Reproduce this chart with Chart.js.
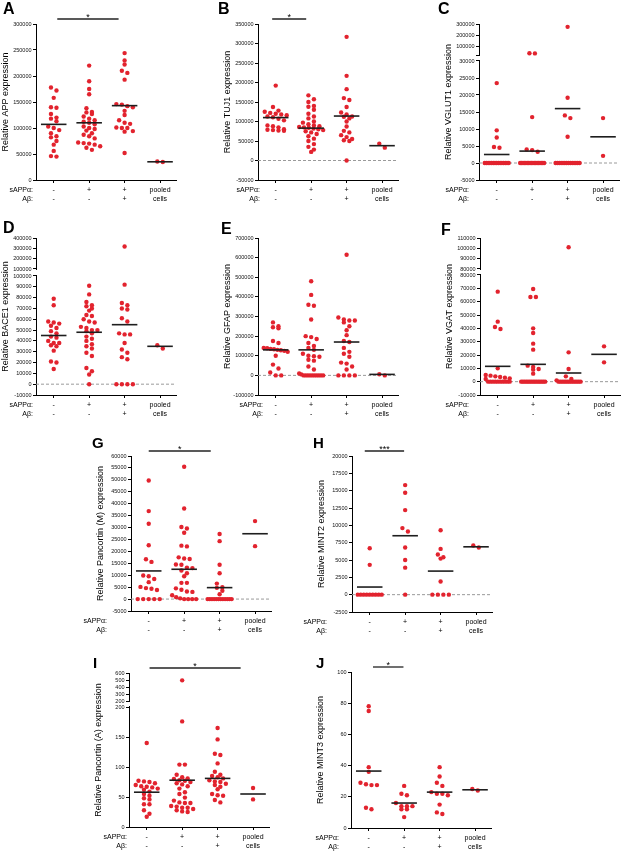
<!DOCTYPE html>
<html><head><meta charset="utf-8">
<script src="https://cdn.jsdelivr.net/npm/chart.js@4/dist/chart.umd.min.js"></script>
<style>
html,body{margin:0;padding:0;background:#fff;}
body{width:624px;height:852px;position:relative;overflow:hidden;font-family:"Liberation Sans",Arial,sans-serif;}
canvas{position:absolute;}
.lt{position:absolute;font-weight:bold;line-height:1;color:#000;font-family:"Liberation Sans",Arial,sans-serif;}
</style></head><body>
<script>
// ---------------- DATA ----------------
const sappLabels = ['-', '+', '+', 'pooled'];
const abLabels   = ['-', '-', '+', 'cells'];
const rowNames   = ['sAPP\u03b1:', 'A\u03b2:'];

// A: APP
const appVals = [
  [178000,172000,158000,140000,139000,127000,120000,118000,113000,103000,100000,96000,90000,84000,82000,75000,68000,56000,46000,45000],
  [220000,190000,175000,165000,138000,131000,130000,127000,122000,118000,115000,112000,110000,107000,103000,100000,98000,95000,90000,87000,84000,80000,72000,71000,70000,68000,65000,62000,58000],
  [244000,230000,222000,210000,206000,193000,146000,145000,142000,140000,133000,125000,115000,110000,108000,101000,100000,100000,94000,93000,52000],
  [35500,34500]
];
const appMeans = [107000,110000,143000,35000];
const appTicks = [0,50000,100000,150000,200000,250000,300000];
const appSig = [1.1, 2.83, '*'];

// B: TUJ1
const tuj1Vals = [
  [192000,137000,128000,125000,122000,120000,118000,116000,113000,111000,107000,103000,90000,88000,85000,80000,79000,78000,77000,76000],
  [167000,157000,150000,140000,138000,130000,120000,113000,108000,100000,97000,93000,90000,88000,86000,85000,84000,82000,80000,78000,75000,72000,68000,62000,56000,50000,42000,35000,28000,22000],
  [317000,217000,183000,160000,155000,137000,123000,118000,113000,112000,108000,100000,87000,76000,72000,65000,60000,55000,52000,50000,0],
  [43000,33000]
];
const tuj1Means = [110000,83000,114000,38000];
const tuj1Ticks = [-50000,0,50000,100000,150000,200000,250000,300000,350000];
const tuj1Sig = [0.9, 1.86, '*'];

// C: VGLUT1 (broken axis)
const vglut1Vals = [
  [23500,9600,7500,4700,4500,0,0,0,0,0,0,0,0,0,0,0,0,0,0,0],
  [45000,44000,13500,4000,3800,3300,0,0,0,0,0,0,0,0,0,0,0,0,0,0,0,0,0,0],
  [275000,19200,14000,13200,7700,0,0,0,0,0,0,0,0,0,0,0,0,0,0],
  [13200,2100]
];
const vglut1Means = [2500,3500,16000,7700];
const vglut1Ticks = [-5000,0,5000,10000,15000,20000,25000,30000];
const vglut1UpperTicks = [100000,200000,300000];

// D: BACE1 (broken axis)
const bace1Vals = [
  [79000,73000,58000,57000,56000,54000,52000,49000,47000,44000,43000,40000,38000,38000,36000,35000,31000,21000,20000,14000],
  [91000,83000,76000,73000,72000,70000,68000,64000,63000,60000,58000,57000,53000,52000,50000,50000,49000,47000,44000,42000,40000,37000,35000,33000,29000,26000,15000,12000,9000,0],
  [318000,92000,75000,73000,70000,69000,61000,58000,47000,46000,46000,38000,32000,29000,25000,23000,0,0,0,0],
  [36000,33000]
];
const bace1Means = [45000,48000,55000,35000];
const bace1Ticks = [-10000,0,10000,20000,30000,40000,50000,60000,70000,80000,90000,100000];
const bace1UpperTicks = [100000,200000,300000,400000];

// E: GFAP
const gfapVals = [
  [270000,250000,245000,240000,175000,165000,140000,138000,135000,133000,130000,128000,125000,120000,100000,55000,35000,15000,0,0],
  [480000,410000,360000,355000,285000,200000,195000,185000,165000,150000,140000,130000,110000,100000,98000,95000,80000,75000,45000,30000,10000,5000,0,0,0,0,0,0,0,0,0,0],
  [615000,295000,285000,280000,280000,270000,250000,230000,205000,175000,170000,140000,120000,110000,95000,65000,60000,45000,30000,0,0,0,0],
  [6000,0]
];
const gfapMeans = [130000,130000,170000,5000];
const gfapTicks = [-100000,0,100000,200000,300000,400000,500000,600000,700000];

// F: VGAT (broken axis)
const vgatVals = [
  [67500,45000,41000,39500,10000,5000,4500,4000,3500,3000,2500,2000,0,0,0,0,0,0,0,0,0,0],
  [69500,63500,63500,40000,36500,28500,24000,12000,11000,9500,9000,6000,0,0,0,0,0,0,0,0,0,0,0,0,0,0,0],
  [101000,22000,9500,4000,2000,1000,0,0,0,0,0,0,0,0,0,0,0,0,0],
  [26500,14500]
];
const vgatMeans = [11500,13000,6500,20500];
const vgatTicks = [-10000,0,10000,20000,30000,40000,50000,60000,70000,80000];
const vgatUpperTicks = [80000,90000,100000,110000];

// G: Pancortin (M)
const pancMVals = [
  [49700,36900,31600,22600,16700,15600,9900,9600,8400,7100,5100,4600,4300,3800,0,0,0,0,0],
  [55500,38000,30200,29600,27800,22400,22100,17500,17000,16800,14500,14400,13200,13000,12000,10800,9600,6800,6800,4500,3900,3200,3000,1600,800,300,0,0,0,0],
  [27300,24300,14400,10800,6500,5000,4700,3500,2000,0,0,0,0,0,0,0,0,0,0,0,0],
  [32700,22200]
];
const pancMMeans = [11800,12500,4800,27400];
const pancMTicks = [-5000,0,5000,10000,15000,20000,25000,30000,35000,40000,45000,50000,55000,60000];
const pancMSig = [1.0, 2.75, '*'];

// H: MINT2
const mint2Vals = [
  [6700,4300,0,0,0,0,0,0,0,0,0],
  [15800,14700,12200,9600,9100,6800,5000,3900,0],
  [9300,6600,5800,5400,5200,1900,0,0,0,0],
  [7100,6800]
];
const mint2Means = [1100,8500,3400,6900];
const mint2Ticks = [-2500,0,2500,5000,7500,10000,12500,15000,17500,20000];
const mint2Sig = [0.86, 1.97, '***'];

// I: Pancortin (A) (broken axis)
const pancAVals = [
  [140,77,76,75,73,70,68,67,66,64,62,59,55,52,48,46,38,38,28,22,17],
  [495,176,104,104,87,83,81,80,78,77,75,73,71,68,64,58,55,49,44,41,40,40,35,34,32,32,30,28,26,25],
  [165,146,122,120,106,92,87,85,83,81,78,76,75,72,70,67,63,55,53,52,45,41],
  [65,46]
];
const pancAMeans = [58,78,81,55];
const pancATicks = [0,50,100,150,200];
const pancAUpperTicks = [200,300,400,500,600];
const pancASig = [1.08, 3.65, '*'];

// J: MINT3
const mint3Vals = [
  [78,75,39,36,29,28,27.5,27.5,13,12],
  [27,22,21,16,14,14,14,12,12,7],
  [39,33,29,27,23,22,22,21,15,10,9],
  [25,24]
];
const mint3Means = [36.5,16,23,24.5];
const mint3Ticks = [0,20,40,60,80,100];
const mint3Sig = [1.12, 1.98, '*'];

// ---------------- PANELS ----------------
const panels = [
  {letter:'A', title:'Relative APP expression', vals:appVals, means:appMeans, ticks:appTicks, sig:appSig},
  {letter:'B', title:'Relative TUJ1 expression', vals:tuj1Vals, means:tuj1Means, ticks:tuj1Ticks, sig:tuj1Sig},
  {letter:'C', title:'Relative VGLUT1 expression', vals:vglut1Vals, means:vglut1Means, ticks:vglut1Ticks, upper:vglut1UpperTicks},
  {letter:'D', title:'Relative BACE1 expression', vals:bace1Vals, means:bace1Means, ticks:bace1Ticks, upper:bace1UpperTicks},
  {letter:'E', title:'Relative GFAP expression', vals:gfapVals, means:gfapMeans, ticks:gfapTicks},
  {letter:'F', title:'Relative VGAT expression', vals:vgatVals, means:vgatMeans, ticks:vgatTicks, upper:vgatUpperTicks},
  {letter:'G', title:'Relative Pancortin (M) expression', vals:pancMVals, means:pancMMeans, ticks:pancMTicks, sig:pancMSig},
  {letter:'H', title:'Relative MINT2 expression', vals:mint2Vals, means:mint2Means, ticks:mint2Ticks, sig:mint2Sig},
  {letter:'I', title:'Relative Pancortin (A) expression', vals:pancAVals, means:pancAMeans, ticks:pancATicks, upper:pancAUpperTicks, sig:pancASig},
  {letter:'J', title:'Relative MINT3 expression', vals:mint3Vals, means:mint3Means, ticks:mint3Ticks, sig:mint3Sig}
];

// layout (positions / sizes only)
const layoutOf = {
  A:{axisX:36,  top:24,  bottom:180, lx:3,   ly:3,   ls:16, rowRight:-3},
  B:{axisX:258, top:24,  bottom:180, lx:218, ly:3,   ls:16, rowRight:2},
  C:{axisX:479, top:24,  bottom:180, lx:438, ly:3,   ls:16, rowRight:-10, upperPx:31, gapPx:6},
  D:{axisX:36,  top:238, bottom:395, lx:3,   ly:222, ls:16, rowRight:-3, upperPx:31, gapPx:7},
  E:{axisX:258, top:238, bottom:395, lx:221, ly:223, ls:16, rowRight:5},
  F:{axisX:480, top:238, bottom:395, lx:441, ly:224, ls:16, rowRight:-11, upperPx:31, gapPx:6},
  G:{axisX:131, top:456, bottom:611, lx:92,  ly:437, ls:15, rowRight:-24},
  H:{axisX:352, top:456, bottom:612, lx:313, ly:437, ls:15, rowRight:-25},
  I:{axisX:129, top:673, bottom:827, lx:93,  ly:657, ls:15, rowRight:-2, upperPx:28, gapPx:6},
  J:{axisX:351, top:672, bottom:828, lx:316, ly:657, ls:15, rowRight:-12}
};

const RED = '#e2232e';
const FONT = '"Liberation Sans", Arial, Helvetica, sans-serif';
Chart.defaults.font.family = FONT;
const YW = 36, XH = 26, PADT = 22, PADR = 4, PADL = 40, XLEN = 140, XMIN = 0.5, XMAX = 4.45;
const XFONT = 7, XLH = 1.2;

function swarm(chart, vals, dfn) {
  const xs = chart.scales.x, ys = chart.scales.y;
  const unit = xs.getPixelForValue(2) - xs.getPixelForValue(1);
  const BIN = 4, STEP = 5.5, MAXW = 24;
  const out = [];
  vals.forEach((g, gi) => {
    const items = g.map(v => ({v, p: ys.getPixelForValue(dfn(v))})).sort((a, b) => a.p - b.p);
    const bins = [];
    for (const it of items) {
      const last = bins[bins.length - 1];
      if (last && it.p - last[0].p < BIN) last.push(it); else bins.push([it]);
    }
    for (const b of bins) {
      const n = b.length;
      const step = n > 1 ? Math.min(STEP, MAXW / (n - 1)) : 0;
      b.forEach((it, j) => out.push({x: gi + 1 + (j - (n - 1) / 2) * step / unit, y: dfn(it.v)}));
    }
  });
  return out;
}

function build(p) {
  const L = layoutOf[p.letter];
  const H = L.bottom - L.top;
  const w = PADL + YW + XLEN + PADR;
  const h = PADT + H + XH;
  const cv = document.createElement('canvas');
  cv.width = w; cv.height = h;
  cv.style.left = (L.axisX - YW - PADL) + 'px';
  cv.style.top = (L.top - PADT) + 'px';
  cv.style.width = w + 'px'; cv.style.height = h + 'px';
  document.body.appendChild(cv);

  const lt = document.createElement('div');
  lt.className = 'lt'; lt.textContent = p.letter;
  lt.style.left = L.lx + 'px'; lt.style.top = (L.ly - 2) + 'px'; lt.style.fontSize = L.ls + 'px';
  document.body.appendChild(lt);

  const ymin = p.ticks[0];
  let ymax = p.ticks[p.ticks.length - 1];
  let dfn = v => v;
  let tickDefs = p.ticks.map(t => ({value: t, lab: String(t)}));
  let brk = null;
  if (p.upper) {
    const lowerMax = ymax;
    const upperMax = p.upper[p.upper.length - 1];
    const lowerPx = H - L.upperPx - L.gapPx;
    const u = (lowerMax - ymin) / lowerPx;
    const gapTop = lowerMax + L.gapPx * u;
    dfn = v => v <= lowerMax ? v : gapTop + (v - lowerMax) / (upperMax - lowerMax) * L.upperPx * u;
    ymax = gapTop + L.upperPx * u;
    tickDefs.push({value: gapTop, lab: p.upper.includes(lowerMax) ? String(lowerMax) : ''});
    p.upper.filter(t => t > lowerMax).forEach(t => tickDefs.push({value: dfn(t), lab: String(t)}));
    brk = {lowerMax, gapTop};
  }

  const pts = [];
  p.vals.forEach((g, i) => g.forEach(v => pts.push({x: i + 1, y: dfn(v)})));
  const datasets = [{data: pts, pointRadius: 2.2, pointBackgroundColor: RED, backgroundColor: RED, borderWidth: 0, pointBorderWidth: 0, order: 1, clip: false}];
  p.means.forEach((m, i) => datasets.push({
    data: [{x: i + 1 - 0.36, y: dfn(m)}, {x: i + 1 + 0.36, y: dfn(m)}],
    showLine: true, pointRadius: 0, borderColor: '#1e1e1e', borderWidth: 1.6, order: 0, clip: false
  }));
  if (ymin < 0) datasets.push({
    data: [{x: XMIN, y: 0}, {x: XMAX, y: 0}], showLine: true, pointRadius: 0,
    borderColor: '#9a9a9a', borderWidth: 1, borderDash: [3, 2], order: 2
  });

  const gridOpt = {display: true, drawOnChartArea: false, drawTicks: true, tickLength: 3, color: '#000', lineWidth: 1};
  const extras = {
    id: 'extras',
    afterDraw(chart) {
      const ctx = chart.ctx, xs = chart.scales.x, ys = chart.scales.y, ca = chart.chartArea;
      ctx.save();
      if (brk) {
        const y1 = ys.getPixelForValue(brk.lowerMax), y2 = ys.getPixelForValue(brk.gapTop);
        ctx.fillStyle = '#fff';
        ctx.fillRect(ca.left - 2, y2 + 1, 4, (y1 - y2) - 2);
      }
      if (p.sig) {
        const yl = ca.top - 5;
        const xa = xs.getPixelForValue(p.sig[0]), xb = xs.getPixelForValue(p.sig[1]);
        ctx.strokeStyle = '#222'; ctx.lineWidth = 1.3;
        ctx.beginPath(); ctx.moveTo(xa, yl); ctx.lineTo(xb, yl); ctx.stroke();
        ctx.fillStyle = '#000'; ctx.font = '9px ' + FONT; ctx.textAlign = 'center'; ctx.textBaseline = 'alphabetic';
        ctx.fillText(p.sig[2], (xa + xb) / 2, yl + 1);
      }
      ctx.fillStyle = '#000'; ctx.font = XFONT + 'px ' + FONT; ctx.textAlign = 'right'; ctx.textBaseline = 'middle';
      const lh = XFONT * XLH;
      rowNames.forEach((t, i) => ctx.fillText(t, ca.left + L.rowRight, xs.top + 3 + 3 + lh / 2 + i * lh));
      ctx.restore();
    }
  };

  const chart = new Chart(cv, {
    type: 'scatter',
    data: {datasets},
    options: {
      responsive: false, animation: false, events: [],
      layout: {padding: {top: PADT, right: PADR, left: PADL, bottom: 0}},
      plugins: {legend: {display: false}, tooltip: {enabled: false}},
      scales: {
        x: {
          type: 'linear', min: XMIN, max: XMAX, bounds: 'data',
          afterBuildTicks: s => { s.ticks = [1, 2, 3, 4].map(v => ({value: v})); },
          afterFit: s => { s.height = XH; },
          grid: gridOpt, border: {display: true, color: '#000', width: 1},
          ticks: {autoSkip: false, maxRotation: 0, minRotation: 0, padding: 3, color: '#000',
            font: {family: FONT, size: XFONT, lineHeight: XLH},
            callback: v => { const i = Math.round(v) - 1; return [sappLabels[i], abLabels[i]]; }}
        },
        y: {
          type: 'linear', min: ymin, max: ymax, bounds: 'data',
          afterBuildTicks: s => { s.ticks = tickDefs.map(t => ({value: t.value, lab: t.lab})); },
          afterFit: s => { s.width = YW; },
          grid: gridOpt, border: {display: true, color: '#000', width: 1},
          ticks: {autoSkip: false, padding: 1.5, color: '#111', font: {family: FONT, size: 5.5},
            callback: (v, i, ticks) => ticks[i].lab},
          title: {display: true, text: p.title, color: '#000', font: {family: FONT, size: 9}, padding: {top: 0, bottom: 0}}
        }
      }
    },
    plugins: [extras]
  });
  chart.data.datasets[0].data = swarm(chart, p.vals, dfn);
  chart.update('none');
}

panels.forEach(build);
</script>
</body></html>
